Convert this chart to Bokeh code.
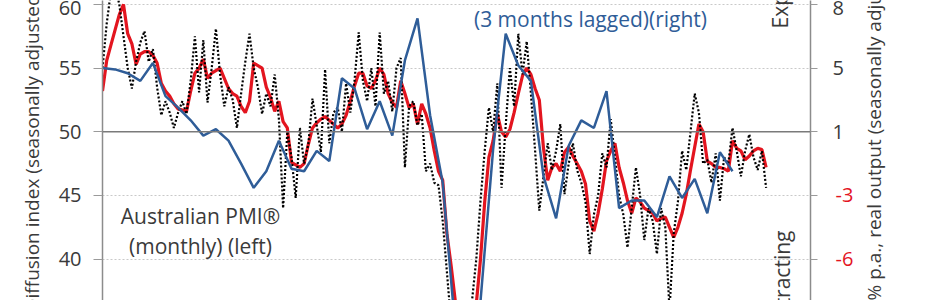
import math
from bokeh.plotting import figure
from bokeh.models import Range1d, LinearAxis, FixedTicker, Span, Label
from bokeh.embed import file_html
from bokeh.resources import INLINE

# ---------------- data ----------------
# Australian PMI, monthly (left axis), one value per month
pmi_monthly = [
    55.0, 58.5, 61.0, 61.5, 60.0, 57.5, 55.0, 53.4, 55.5, 57.0,
    57.9, 55.5, 56.5, 53.5, 51.3, 52.4, 51.5, 50.3, 51.5, 52.4,
    51.4, 54.0, 57.5, 53.1, 57.2, 52.3, 55.0, 58.1, 54.5, 52.0,
    53.5, 52.5, 50.3, 53.0, 55.5, 57.7, 55.0, 53.5, 51.4, 53.0,
    52.0, 54.5, 51.0, 44.0, 50.0, 48.0, 44.8, 50.3, 47.5, 49.0,
    52.6, 50.5, 48.4, 54.9, 49.1, 51.5, 51.9, 50.0, 53.8, 51.5,
    54.0, 57.8, 54.0, 52.4, 55.0, 52.0, 57.8, 53.0, 54.0, 51.6,
    55.0, 55.8, 47.2, 52.0, 52.4, 50.5, 51.4, 46.9, 47.5, 46.0,
    45.8, 43.0, 39.0, 35.0, 32.0, 31.0, 32.5, 34.5, 36.8, 40.0,
    44.6, 48.5, 51.9, 50.0, 53.8, 45.6, 50.5, 55.0, 52.0, 57.7,
    54.5, 57.1, 53.0, 48.5, 43.8, 46.5, 49.1, 47.0, 48.5, 50.6,
    45.1, 47.5, 49.1, 47.0, 46.0, 44.5, 40.4, 43.5, 45.0, 48.3,
    47.2, 51.0, 48.0, 45.0, 43.5, 40.9, 44.0, 47.2, 45.0, 41.5,
    44.0, 43.0, 40.4, 44.0, 42.5, 36.0, 42.0, 44.5, 48.5, 47.0,
    50.0, 53.0, 51.5, 47.5, 47.8, 46.0, 48.3, 44.6, 48.0, 47.5,
    50.3, 48.5, 46.5, 48.5, 49.8, 48.0, 47.0, 48.5, 45.6,
]
# Australian PMI, 3-month moving average (left axis)
pmi_3mma = [
    53.2, 55.6, 56.8, 58.0, 59.2, 60.0, 57.7, 56.9, 55.3, 56.1,
    56.3, 56.3, 56.0, 55.4, 53.8, 53.2, 52.8, 52.2, 51.8, 51.7,
    51.6, 53.2, 54.6, 55.0, 55.7, 54.2, 54.6, 54.8, 55.0, 54.2,
    53.4, 53.0, 52.8, 52.0, 51.5, 52.4, 55.4, 55.2, 55.0, 53.5,
    52.7, 51.6, 52.4, 50.8, 50.3, 47.6, 47.4, 47.2, 47.5, 49.0,
    50.3, 50.7, 51.0, 51.2, 50.9, 50.6, 50.3, 50.6, 51.3, 52.4,
    53.6, 54.6, 54.6, 53.6, 53.4, 54.0, 55.0, 54.5, 53.0, 52.3,
    51.9, 54.0, 53.0, 51.9, 52.2, 50.6, 52.2, 51.4, 50.3, 48.5,
    46.9, 46.2, 42.0, 39.5, 36.7, 34.5, 33.0, 33.0, 34.5, 36.5,
    40.0, 44.5, 48.0, 49.3, 51.4, 50.0, 49.6, 50.2, 51.5, 53.0,
    54.4, 55.0, 54.5, 53.4, 52.5, 48.7, 46.2, 47.2, 47.5, 46.9,
    48.4, 48.8, 48.1, 47.5, 46.9, 45.9, 43.0, 42.2, 43.6, 45.5,
    47.7, 48.5, 49.1, 47.2, 46.0, 44.6, 43.6, 44.8, 44.5, 44.0,
    43.8, 43.6, 43.0, 43.2, 43.3, 42.5, 41.7, 42.5, 43.6, 45.1,
    47.0, 48.8, 50.6, 50.0, 47.7, 47.5, 47.2, 47.2, 47.1, 46.9,
    49.3, 48.7, 48.5, 47.8, 48.1, 48.5, 48.7, 48.6, 47.2,
]
# Real output, quarterly, 3 months lagged (right axis), expressed at its
# plotted height on the shared vertical scale
abs_output_lagged = [
    55.0, 54.9, 54.6, 54.0, 55.4, 52.8, 51.9, 50.9, 49.7, 50.2,
    49.3, 47.5, 45.6, 46.9, 49.3, 47.1, 46.9, 48.5, 47.7, 54.2,
    53.4, 50.2, 52.4, 49.7, 55.6, 58.9, 51.3, 46.0, 34.5, 32.5,
    36.7, 48.6, 57.7, 55.2, 54.0, 46.5, 43.2, 48.9, 50.9, 50.3,
    53.2, 44.0, 44.6, 44.6, 43.3, 46.5, 44.8, 46.3, 43.6, 48.4,
    46.9,
]
months = list(range(len(pmi_monthly)))
months_3mma = list(range(len(pmi_3mma)))
quarter_months = [3 * i for i in range(len(abs_output_lagged))]

tick_positions = [40, 45, 50, 55, 60]
left_tick_labels = ["40", "45", "50", "55", "60"]
right_tick_labels = ["-6", "-3", "1", "5", "8"]

# ---------------- styling ----------------
FONT = "Open Sans"
TXT = "#3a3a3a"
RED = "#e3151f"
BLUE = "#2f5d98"
W, H = 930, 300
LEFT, RIGHT = 102, 120

p = figure(width=W, height=H, output_backend="svg", toolbar_location=None,
           x_axis_location=None, y_axis_location="left",
           x_range=Range1d(0, 168.57), y_range=Range1d(36.75, 60.31),
           min_border_left=LEFT, min_border_right=RIGHT,
           min_border_top=0, min_border_bottom=0)
p.title = None
p.outline_line_color = None
p.background_fill_color = "white"
p.border_fill_color = "white"
p.xgrid.visible = False

ticker = FixedTicker(ticks=tick_positions)
ax = p.yaxis[0]
ax.ticker = ticker
ax.major_label_overrides = {t: s for t, s in zip(tick_positions, left_tick_labels)}
ax.axis_line_color = "#8c8c8c"
ax.axis_line_width = 1.5
ax.major_tick_line_color = "#9a9a9a"
ax.major_tick_out = 9
ax.major_tick_in = 0
ax.minor_tick_line_color = None
ax.major_label_standoff = 12
ax.major_label_text_font = FONT
ax.major_label_text_font_size = "20px"
ax.major_label_text_color = TXT
ax.axis_label = "Diffusion index (seasonally adjusted)"
ax.axis_label_text_font = FONT
ax.axis_label_text_font_size = "19px"
ax.axis_label_text_font_style = "normal"
ax.axis_label_text_color = TXT
ax.axis_label_standoff = 11

p.ygrid.ticker = ticker
p.ygrid.grid_line_color = "#c9c9c9"
p.ygrid.grid_line_dash = "2 2"
p.ygrid.grid_line_width = 1.2

# right axis, inner: ticks and the black (non-negative) labels
rax = LinearAxis(ticker=FixedTicker(ticks=tick_positions))
rax.major_label_overrides = {t: (s if not s.startswith("-") else "")
                             for t, s in zip(tick_positions, right_tick_labels)}
rax.axis_line_color = "#8c8c8c"
rax.axis_line_width = 1.5
rax.major_tick_line_color = "#9a9a9a"
rax.major_tick_out = 7
rax.major_tick_in = 0
rax.minor_tick_line_color = None
rax.major_label_standoff = 15
rax.major_label_text_font = FONT
rax.major_label_text_font_size = "20px"
rax.major_label_text_color = TXT
p.add_layout(rax, "right")

# right axis, outer: the red negative labels (pulled back under the inner
# axis' label column) and the axis title
rax2 = LinearAxis(ticker=FixedTicker(ticks=tick_positions))
rax2.major_label_overrides = {t: (s if s.startswith("-") else "")
                              for t, s in zip(tick_positions, right_tick_labels)}
rax2.axis_line_color = None
rax2.major_tick_line_color = None
rax2.minor_tick_line_color = None
rax2.major_tick_out = 0
rax2.major_tick_in = 0
rax2.major_label_standoff = -11
rax2.major_label_text_font = FONT
rax2.major_label_text_font_size = "20px"
rax2.major_label_text_color = RED
rax2.axis_label = "% p.a., real output (seasonally adjusted)"
rax2.axis_label_text_font = FONT
rax2.axis_label_text_font_size = "19px"
rax2.axis_label_text_font_style = "normal"
rax2.axis_label_text_color = TXT
rax2.axis_label_standoff = 18
rax2.axis_label_orientation = math.pi / 2
rax2.axis_label_align = "start"
rax2.axis_label_text_align = "left"
p.add_layout(rax2, "right")

p.add_layout(Span(location=50, dimension="width", line_color="#7a7a7a", line_width=1.6))

# ---------------- series ----------------
p.line(months_3mma, pmi_3mma, line_color=RED, line_width=3.2)
p.line(months, pmi_monthly, line_color="#000000", line_width=2.2, line_dash="2 2")
p.line(quarter_months, abs_output_lagged, line_color=BLUE, line_width=2.5)

# ---------------- texts ----------------
def lab(x, y, text, color=TXT, size="21px", align="center", angle=0.0):
    p.add_layout(Label(x=x, y=y, x_units="screen", y_units="screen", text=text,
                       text_font=FONT, text_font_size=size, text_color=color,
                       text_align=align, text_baseline="middle", angle=angle))

lab(98, 85, "Australian PMI\u00ae")
lab(98, 55, "(monthly) (left)")
lab(488, 282, "(3 months lagged)(right)", color=BLUE)
lab(677, 272, "Expanding", size="21px", align="left", angle=math.pi / 2)
lab(679, 70, "Contracting", size="21px", align="right", angle=math.pi / 2)

open("out.html", "w").write(file_html(p, INLINE))
